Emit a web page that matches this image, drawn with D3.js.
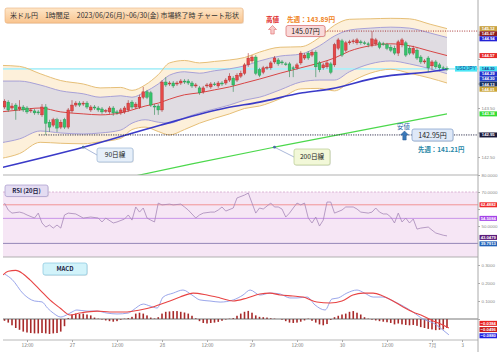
<!DOCTYPE html>
<html>
<head>
<meta charset="utf-8">
<script src="https://cdn.jsdelivr.net/npm/d3@7"></script>
<style>
body { margin: 0; background: #fff; }
svg { display: block; font-family: "Liberation Sans", "Noto Sans", sans-serif; }
.jp { font-family: "Noto Sans CJK JP", sans-serif; }
</style>
</head>
<body>
<svg id="chart" width="500" height="352"></svg>
<script>
// ---- data ----
var startHour = 6; // first candle = 06/26 06:00, one candle per hour

// [open, high, low, close]
var ohlc = [
  [143.52,143.68,143.48,143.64],[143.62,143.66,143.42,143.46],[143.50,143.60,143.46,143.54],[143.56,143.60,143.26,143.46],
  [143.48,143.66,143.44,143.52],[143.52,143.56,143.42,143.46],[143.50,143.54,143.38,143.42],[143.44,143.50,143.40,143.46],
  [143.44,143.48,143.36,143.40],[143.42,143.46,143.36,143.40],[143.36,143.58,143.32,143.52],[143.52,143.58,142.95,143.19],
  [143.21,143.26,143.01,143.11],[143.15,143.30,143.11,143.26],[143.26,143.30,143.01,143.09],[143.11,143.26,143.07,143.21],
  [143.26,143.30,143.07,143.11],[143.11,143.50,143.07,143.46],[143.44,143.66,143.40,143.56],[143.56,143.64,143.52,143.60],
  [143.60,143.64,143.52,143.56],[143.58,143.64,143.54,143.60],[143.60,143.64,143.48,143.52],[143.46,143.56,143.42,143.52],
  [143.52,143.56,143.46,143.50],[143.50,143.54,143.42,143.46],[143.48,143.52,143.38,143.42],[143.44,143.48,143.40,143.45],
  [143.42,143.54,143.38,143.50],[143.50,143.54,143.34,143.40],[143.42,143.46,143.36,143.40],[143.40,143.50,143.36,143.46],
  [143.42,143.54,143.38,143.50],[143.46,143.66,143.42,143.60],[143.62,143.66,143.48,143.52],[143.52,143.62,143.48,143.58],
  [143.52,143.77,143.48,143.72],[143.72,143.93,143.68,143.83],[143.83,143.87,143.68,143.72],[143.81,143.85,143.52,143.56],
  [143.54,143.58,143.36,143.52],[143.54,143.58,143.36,143.46],[143.46,144.07,143.42,144.03],[144.03,144.13,143.93,143.97],
  [143.99,144.05,143.95,144.01],[144.01,144.05,143.91,143.95],[143.99,144.05,143.95,144.01],[144.01,144.09,143.97,144.05],
  [144.05,144.09,143.99,144.03],[144.05,144.09,143.97,144.01],[144.01,144.05,143.91,143.95],[143.95,144.01,143.91,143.97],
  [143.91,143.95,143.77,143.81],[143.83,143.95,143.79,143.91],[143.95,144.01,143.91,143.97],[143.93,144.03,143.89,143.99],
  [143.99,144.03,143.95,143.98],[143.95,144.05,143.91,144.01],[144.01,144.05,143.95,143.99],[144.01,144.11,143.97,144.07],
  [144.07,144.21,144.03,144.15],[144.11,144.15,143.83,143.97],[144.07,144.21,144.03,144.17],[144.15,144.26,144.11,144.21],
  [144.21,144.42,144.17,144.38],[144.38,144.62,144.34,144.52],[144.46,144.58,144.42,144.54],[144.54,144.58,144.17,144.21],
  [144.28,144.32,144.13,144.17],[144.23,144.36,144.19,144.32],[144.32,144.36,144.28,144.33],[144.32,144.46,144.28,144.42],
  [144.44,144.56,144.40,144.52],[144.48,144.52,144.36,144.40],[144.44,144.48,144.38,144.42],[144.40,144.44,144.36,144.39],
  [144.40,144.44,144.13,144.26],[144.32,144.36,144.13,144.31],[144.32,144.42,144.28,144.38],[144.42,144.66,144.38,144.62],
  [144.52,144.62,144.48,144.58],[144.62,144.66,144.48,144.52],[144.58,144.68,144.54,144.64],[144.64,144.68,144.13,144.34],
  [144.42,144.46,144.23,144.28],[144.32,144.42,144.28,144.38],[144.34,144.46,144.30,144.42],[144.40,144.44,144.19,144.23],
  [144.38,144.83,144.34,144.79],[144.72,144.93,144.68,144.89],[144.87,144.91,144.54,144.58],[144.68,144.87,144.64,144.83],
  [144.83,144.89,144.79,144.85],[144.85,144.91,144.81,144.87],[144.83,144.93,144.79,144.89],[144.85,144.89,144.79,144.83],
  [144.83,144.87,144.79,144.82],[144.81,144.85,144.74,144.79],[144.79,145.07,144.74,144.91],[144.81,144.93,144.77,144.89],
  [144.83,144.87,144.70,144.74],[144.81,144.85,144.77,144.80],[144.79,144.83,144.68,144.72],[144.74,144.79,144.64,144.68],
  [144.72,144.77,144.58,144.62],[144.62,144.89,144.56,144.85],[144.79,144.93,144.74,144.89],[144.83,144.87,144.54,144.58],
  [144.72,144.77,144.58,144.62],[144.62,144.77,144.58,144.72],[144.68,144.72,144.48,144.52],[144.54,144.58,144.40,144.44],
  [144.44,144.50,144.40,144.46],[144.52,144.56,144.23,144.32],[144.36,144.48,144.28,144.44],[144.44,144.48,144.30,144.34],
  [144.38,144.42,144.28,144.32],[144.32,144.36,144.28,144.31],[144.31,144.35,144.26,144.30]
];

// bollinger bands (middle, +-1 sigma, +-1.5 sigma), sampled by hour
var bbHours = [5,10,15.5,21,27,31.5,37,40,43.5,47,50,54,58,62,66,70,74,79.5,85,90,94,98,103.5,109,114,119.5,124];
var bbMid = [143.42,143.46,143.50,143.42,143.38,143.36,143.40,143.46,143.54,143.60,143.68,143.77,143.81,143.87,143.93,144.01,144.09,144.21,144.32,144.42,144.52,144.66,144.77,144.81,144.77,144.66,144.57];
var bbUp1 = [144.05,144.05,143.97,143.85,143.79,143.72,143.75,143.72,143.83,143.99,144.17,144.24,144.21,144.26,144.30,144.36,144.46,144.56,144.60,144.77,144.97,145.09,145.13,145.15,145.13,145.03,144.94];
var bbLo1 = [142.79,142.87,143.03,142.99,142.97,142.99,143.05,143.19,143.26,143.21,143.19,143.30,143.40,143.48,143.56,143.66,143.72,143.87,144.03,144.07,144.07,144.24,144.40,144.46,144.40,144.30,144.20];
var bbUp2 = [144.37,144.35,144.20,144.06,143.99,143.91,143.92,143.86,143.97,144.18,144.42,144.47,144.42,144.45,144.48,144.53,144.64,144.74,144.75,144.94,145.19,145.31,145.32,145.33,145.32,145.21,145.12];
var bbLo2 = [142.47,142.57,142.80,142.78,142.77,142.81,142.88,143.06,143.11,143.02,142.95,143.06,143.19,143.29,143.38,143.49,143.54,143.69,143.89,143.90,143.85,144.02,144.21,144.29,144.21,144.11,144.01];

// 90 / 200 day lines
var ma90Hours = [5,27,47.5,65,74,85.5,93,106,119.5,124];
var ma90 = [142.28,142.70,143.15,143.50,143.62,143.81,143.89,144.13,144.24,144.29];
var ma200Hours = [37,56,78,124];
var ma200 = [142.05,142.36,142.70,143.38];

var lastPrice = 144.30;
var weekHigh = 145.07, weekLow = 142.95;
var prevHigh = 143.89, prevLow = 141.21;
var lowHour = 17;

// RSI (20) [hour, value]
var rsi = [[6,63.5],[7,59.4],[8,57.6],[10,58.2],[11,57.6],[12,56.5],[14,54.7],[15,57.6],[16,51.8],[17,49.4],
  [18,50.6],[19,48.8],[20,50.6],[21,48.8],[22,56.5],[23,57.6],[25,57.1],[27,54.7],[29,55.3],[31,54.7],
  [32,52.4],[33,54.7],[35,51.8],[36,52.4],[38,54.1],[39,56.5],[40,53.5],[41,61.2],[42,58.2],[43,60.6],
  [44,54.7],[45,53.5],[46,52.4],[47,63.5],[48,62.4],[50,62.9],[51,62.4],[53,62.9],[54,61.2],[55,59.4],
  [57,54.7],[58,56.5],[59,57.6],[61,58.2],[62,58.2],[63,59.4],[64,61.2],[65,58.8],[67,60.6],[68,66.5],
  [70,68.2],[71,69.4],[72,63.5],[73,57.6],[74,60.6],[75,60.0],[77,63.5],[78,61.2],[79,61.2],[80,60.0],
  [81,55.3],[82,57.6],[83,60.6],[84,63.5],[85,62.4],[86,63.5],[87,54.7],[88,51.8],[89,55.3],[90,50.0],
  [91,53.5],[92,64.1],[93,64.1],[94,57.6],[96,59.4],[97,61.2],[99,61.2],[100,60.0],[101,58.2],[103,57.6],
  [104,58.2],[105,60.6],[106,58.2],[107,57.1],[108,57.1],[109,55.3],[110,51.8],[111,57.6],[112,52.4],[113,54.7],
  [114,51.8],[115,54.1],[116,48.2],[117,48.8],[119,49.4],[120,47.6],[121,45.9],[123,44.6],[124,44.2]];
var rsiLevels = [70, 62.4882, 54.5084, 39.7913];
var rsiTagValues = [62.4882, 54.5084, 43.0479, 39.7913];
var rsiTicks = [80, 70, 60, 50];

// MACD [hour, value]
var macd = [[6,0.25],[8,0.22],[11,0.14],[14,0.10],[16,0.095],[17.5,0.06],[19,0.033],[21,0.011],[22.5,0.022],[24,0.039],
  [25.3,0.05],[28,0.044],[30.7,0.044],[33.3,0.033],[36,0.028],[39,0.033],[40.3,0.05],[43,0.083],[44.8,0.072],[46.7,0.061],
  [48.3,0.122],[51,0.144],[53.6,0.161],[56,0.133],[58.1,0.106],[60.8,0.10],[63.5,0.094],[67,0.106],[69.6,0.133],[71.5,0.161],
  [74.1,0.133],[76.8,0.144],[79.5,0.139],[82.1,0.117],[84,0.117],[86.7,0.122],[88.8,0.078],[91.5,0.05],[93.3,0.111],[95,0.117],
  [97.3,0.144],[100,0.161],[102,0.144],[104.3,0.122],[106.9,0.122],[109.6,0.10],[112.3,0.072],[114.9,0.039],[117.6,0.0],
  [120.3,-0.022],[122.9,-0.061],[124.5,-0.088]];
var signal = [[5.6,0.245],[7,0.265],[9,0.27],[11,0.25],[12.8,0.217],[15.5,0.161],[18.1,0.106],[20.8,0.061],[23.5,0.022],
  [26.1,0.033],[30.7,0.044],[34.1,0.039],[38.7,0.039],[42.1,0.05],[45.6,0.067],[49.3,0.094],[52.8,0.122],[56.3,0.144],
  [60,0.133],[63.5,0.117],[66.9,0.10],[70.7,0.117],[74.1,0.139],[76.8,0.144],[79.5,0.133],[82.9,0.128],[85.6,0.122],
  [89.3,0.094],[92.8,0.089],[96,0.10],[98.9,0.133],[101.6,0.144],[104.3,0.144],[106.9,0.128],[109.6,0.10],[112.3,0.067],
  [114.9,0.039],[117.6,0.017],[120.3,-0.011],[122.9,-0.033],[124.5,-0.05]];
var hist = [-0.01,-0.02,-0.035,-0.05,-0.06,-0.07,-0.075,-0.078,-0.08,-0.08,
  -0.078,-0.08,-0.083,-0.08,-0.078,-0.07,-0.04,0.005,0.025,0.03,
  0.028,0.03,0.025,0.02,0.008,0.002,-0.003,-0.008,-0.012,-0.015,
  -0.012,-0.004,0.002,0.005,0.012,0.03,0.035,0.03,0.02,0.008,
  0.003,0.01,0.03,0.04,0.042,0.044,0.044,0.04,0.036,0.03,
  0.018,0.004,-0.012,-0.022,-0.025,-0.022,-0.02,-0.016,-0.01,-0.003,
  0.002,0.005,0.018,0.03,0.04,0.045,0.035,0.02,0.012,0.01,
  0.008,0.004,0.002,0.0,-0.004,-0.012,-0.02,-0.022,-0.02,-0.015,
  -0.008,0.002,-0.01,-0.02,-0.03,-0.035,-0.028,-0.005,0.01,0.018,
  0.025,0.03,0.04,0.044,0.035,0.025,0.01,0.002,-0.004,-0.008,
  -0.012,-0.015,-0.018,-0.022,-0.03,-0.025,-0.03,-0.033,-0.035,-0.033,
  -0.038,-0.045,-0.05,-0.055,-0.058,-0.062,-0.06,-0.058,-0.05];
var macdTagValues = [-0.0384, -0.0496, -0.0880];
var macdTicks = [0.3, 0.2, 0.1, 0.0];

// axis labels
var xTickHours = [12,24,36,48,60,72,84,96,108,120,128];
var xTickLabels = ['12:00','27','12:00','28','12:00','29','12:00','30','12:00','7月','3'];
var priceTicks = [142.5,143.0,143.5,144.0,144.5,145.0];
var mainTagValues = [145.12,145.07,144.94,144.57,144.30,144.29,144.20,144.13,144.01,143.38,142.95];

var title = '米ドル円　1時間足　2023/06/26(月)~06/30(金) 市場終了時 チャート形状';

// ---- layout ----
var left = 3, right = 478;
var svg = d3.select('#chart');
var defs = svg.append('defs');

var x = d3.scaleLinear().domain([0, 128]).range([-18, 462]);
var yP = d3.scaleLinear().domain([142.5, 143.5]).range([157, 108]);
var yR = d3.scaleLinear().domain([31.8, 80]).range([257, 175]);
var yM = d3.scaleLinear().domain([-0.1, 0.3]).range([337, 265]);

function clip(id, y0, y1) {
  defs.append('clipPath').attr('id', id).append('rect')
    .attr('x', left).attr('y', y0).attr('width', right - left).attr('height', y1 - y0);
}
clip('cMain', 0, 175); clip('cRsi', 175, 257); clip('cMacd', 257, 340);

var gMain = svg.append('g').attr('clip-path', 'url(#cMain)');

// band fills
function band(hi, lo) {
  return d3.area().curve(d3.curveMonotoneX)
    .x(function(d, i) { return x(bbHours[i]); })
    .y0(function(d, i) { return yP(lo[i]); })
    .y1(function(d, i) { return yP(hi[i]); })(bbHours);
}
function bline(arr, hours) {
  return d3.line().curve(d3.curveMonotoneX)
    .x(function(d, i) { return x(hours[i]); })
    .y(function(d) { return yP(d); })(arr);
}
gMain.append('path').attr('d', band(bbUp2, bbLo2)).attr('fill', '#fdf0da');
gMain.append('path').attr('d', band(bbUp1, bbLo1)).attr('fill', '#e0dce2');

// current price line
gMain.append('line').attr('x1', left).attr('x2', right)
  .attr('y1', yP(lastPrice)).attr('y2', yP(lastPrice))
  .attr('stroke', '#aeeff8').attr('stroke-width', 1.8);

[bbUp2, bbLo2].forEach(function(a) {
  gMain.append('path').attr('d', bline(a, bbHours)).attr('fill', 'none').attr('stroke', '#e6bf78').attr('stroke-width', 1);
});
[bbUp1, bbLo1].forEach(function(a) {
  gMain.append('path').attr('d', bline(a, bbHours)).attr('fill', 'none').attr('stroke', '#9f98d6').attr('stroke-width', 0.9);
});
gMain.append('path').attr('d', bline(bbMid, bbHours)).attr('fill', 'none').attr('stroke', '#d84646').attr('stroke-width', 1);

// moving averages
gMain.append('path').attr('d', bline(ma90, ma90Hours)).attr('fill', 'none').attr('stroke', '#3a3ac8').attr('stroke-width', 1.6);
gMain.append('path').attr('d', bline(ma200, ma200Hours)).attr('fill', 'none').attr('stroke', '#4cd84c').attr('stroke-width', 1.2);

// high / low dotted lines
svg.append('line').attr('x1', 325).attr('x2', right)
  .attr('y1', yP(weekHigh)).attr('y2', yP(weekHigh))
  .attr('stroke', '#a02424').attr('stroke-width', 0.9).attr('stroke-dasharray', '1,1.4');
svg.append('line').attr('x1', x(lowHour) - 7).attr('x2', right)
  .attr('y1', yP(weekLow)).attr('y2', yP(weekLow))
  .attr('stroke', '#202040').attr('stroke-width', 0.9).attr('stroke-dasharray', '1.2,1.2');

// candles
var candles = gMain.selectAll('g.c').data(ohlc).enter().append('g').attr('class', 'c');
function cx(d, i) { return x(startHour + i); }
function up(d) { return d[3] >= d[0]; }
candles.append('line')
  .attr('x1', cx).attr('x2', cx)
  .attr('y1', function(d) { return yP(d[1]); })
  .attr('y2', function(d) { return yP(d[2]); })
  .attr('stroke', function(d) { return up(d) ? '#a83030' : '#2e8a50'; })
  .attr('stroke-width', 0.6);
candles.append('rect')
  .attr('x', function(d, i) { return cx(d, i) - 1.35; })
  .attr('width', 2.7)
  .attr('y', function(d) { return yP(Math.max(d[0], d[3])); })
  .attr('height', function(d) { return Math.max(0.8, Math.abs(yP(d[0]) - yP(d[3]))); })
  .attr('fill', function(d) { return up(d) ? '#e64848' : '#36c46a'; })
  .attr('stroke', function(d) { return up(d) ? '#b02a2a' : '#239050'; })
  .attr('stroke-width', 0.4);

// ---- RSI panel ----
var gR = svg.append('g').attr('clip-path', 'url(#cRsi)');
gR.append('rect').attr('x', left).attr('width', right - left)
  .attr('y', yR(70)).attr('height', yR(31.8) - yR(70)).attr('fill', '#f6e6f5');
var levelColors = ['#d4a4cc', '#f08a8a', '#c48ae6', '#8a7cb0'];
rsiLevels.forEach(function(v, i) {
  gR.append('line').attr('x1', left).attr('x2', right).attr('y1', yR(v)).attr('y2', yR(v))
    .attr('stroke', levelColors[i]).attr('stroke-width', i === 0 ? 0.8 : 0.9)
    .attr('stroke-dasharray', i === 0 ? '2,1.5' : null);
});
gR.append('path').datum(rsi)
  .attr('d', d3.line().x(function(d) { return x(d[0]); }).y(function(d) { return yR(d[1]); }))
  .attr('fill', 'none').attr('stroke', '#a688b8').attr('stroke-width', 0.8);

// ---- MACD panel ----
var gM = svg.append('g').attr('clip-path', 'url(#cMacd)');
gM.selectAll('rect.h').data(hist).enter().append('rect').attr('class', 'h')
  .attr('x', function(d, i) { return x(startHour + i) - 0.8; })
  .attr('width', 1.6)
  .attr('y', function(d) { return yM(Math.max(0, d)); })
  .attr('height', function(d) { return Math.abs(yM(d) - yM(0)); })
  .attr('fill', '#a82a2a');
gM.append('line').attr('x1', left).attr('x2', right).attr('y1', yM(0)).attr('y2', yM(0))
  .attr('stroke', '#555').attr('stroke-width', 0.8);
var mline = d3.line().curve(d3.curveMonotoneX).x(function(d) { return x(d[0]); }).y(function(d) { return yM(d[1]); });
gM.append('path').datum(macd).attr('d', mline).attr('fill', 'none').attr('stroke', '#8f9ce8').attr('stroke-width', 0.9);
gM.append('path').datum(signal).attr('d', mline).attr('fill', 'none').attr('stroke', '#e84444').attr('stroke-width', 1.1);

// ---- separators / axes ----
[175, 257].forEach(function(yy) {
  svg.append('line').attr('x1', left).attr('x2', right).attr('y1', yy).attr('y2', yy)
    .attr('stroke', '#a8a8a8').attr('stroke-width', 0.9);
});
svg.append('line').attr('x1', left).attr('x2', right).attr('y1', 340).attr('y2', 340)
  .attr('stroke', '#b0b0b0').attr('stroke-width', 0.9);
svg.append('line').attr('x1', right).attr('x2', right).attr('y1', 0).attr('y2', 352)
  .attr('stroke', '#a0a0a0').attr('stroke-width', 0.9);

var xAxis = svg.append('g').attr('transform', 'translate(0,340)')
  .call(d3.axisBottom(x).tickValues(xTickHours).tickSize(2).tickPadding(2)
    .tickFormat(function(d, i) { return xTickLabels[i]; }));
xAxis.select('.domain').remove();
xAxis.selectAll('line').attr('stroke', '#aaa');
xAxis.selectAll('text').attr('font-size', 4.8).attr('fill', '#777').attr('class', 'jp');

// ---- value tags on the right ----
function spread(ys, gap, symmetric) {
  var idx = ys.map(function(y, i) { return i; }).sort(function(a, b) { return ys[a] - ys[b]; });
  var out = ys.slice();
  if (!symmetric) {
    for (var k = 1; k < idx.length; k++) {
      if (out[idx[k]] - out[idx[k - 1]] < gap) out[idx[k]] = out[idx[k - 1]] + gap;
    }
  } else {
    for (var it = 0; it < 60; it++) {
      for (var k2 = 1; k2 < idx.length; k2++) {
        var a = idx[k2 - 1], b = idx[k2], d = out[b] - out[a];
        if (d < gap) { out[a] -= (gap - d) / 2; out[b] += (gap - d) / 2; }
      }
    }
  }
  return out;
}

// gray scale labels, hidden where a coloured tag sits on top of them
function rightAxis(scale, ticks, fmt, tagYs) {
  var shown = ticks.filter(function(t) {
    return tagYs.every(function(ty) { return Math.abs(scale(t) - ty) > 5.5; });
  });
  var g = svg.append('g').attr('transform', 'translate(' + right + ',0)')
    .call(d3.axisRight(scale).tickValues(ticks).tickSize(2).tickPadding(1.5)
      .tickFormat(function(t) { return shown.indexOf(t) >= 0 ? fmt(t) : ''; }));
  g.select('.domain').remove();
  g.selectAll('line').attr('stroke', '#aaa');
  g.selectAll('text').attr('font-size', 4.4).attr('fill', '#888');
}

function tags(values, ys, colors, textColors, fmt) {
  var g = svg.append('g');
  values.forEach(function(v, i) {
    g.append('rect').attr('x', 479.5).attr('y', ys[i] - 2.5).attr('width', 17.5).attr('height', 5)
      .attr('fill', colors[i]);
    g.append('text').attr('x', 488.25).attr('y', ys[i] + 1.45).attr('text-anchor', 'middle')
      .attr('font-size', 4.2).attr('font-weight', 'bold').attr('fill', textColors[i] || '#fff')
      .text(fmt(v));
  });
}

var mainYs = spread(mainTagValues.map(yP), 5.1, false);
var rsiYs = spread(rsiTagValues.map(yR), 6.4, true);
var macdYs = spread(macdTagValues.map(yM), 6.2, true);

rightAxis(yP, priceTicks, d3.format('.2f'), mainYs);
rightAxis(yR, rsiTicks, d3.format('.4f'), rsiYs);
rightAxis(yM, macdTicks, d3.format('.4f'), macdYs);

tags(mainTagValues, mainYs,
  ['#c9a242', '#8c1e1e', '#2222d6', '#e62a2a', '#46e4f4', '#2232cc', '#2442c6', '#1a3262', '#c8a232', '#34dc34', '#1a1a3a'],
  [null, null, null, null, '#1a3490'], d3.format('.2f'));
tags(rsiTagValues, rsiYs, ['#f02a2a', '#a444e8', '#5c1c7a', '#2262b8'], [], d3.format('.4f'));
tags(macdTagValues, macdYs, ['#e82222', '#c81a1a', '#2222e0'], [], d3.format('.4f'));

// USD/JPY tag next to the last price
var lpY = mainYs[mainTagValues.indexOf(lastPrice)];
svg.append('rect').attr('x', 455).attr('y', lpY - 2.8).attr('width', 22).attr('height', 5.6).attr('fill', '#4ae6f6');
svg.append('text').attr('x', 466).attr('y', lpY + 1.6).attr('text-anchor', 'middle')
  .attr('font-size', 4.6).attr('fill', '#1a3a8a').text('USD/JPY');

// ---- annotations ----
var grad = defs.append('linearGradient').attr('id', 'gTitle').attr('x1', 0).attr('y1', 0).attr('x2', 0).attr('y2', 1);
grad.append('stop').attr('offset', 0).attr('stop-color', '#fee6c8');
grad.append('stop').attr('offset', 1).attr('stop-color', '#f9c48e');
svg.append('rect').attr('x', 6).attr('y', 9).attr('width', 238).attr('height', 15).attr('rx', 2)
  .attr('fill', '#e8d2bc').attr('opacity', 0.6);
svg.append('rect').attr('x', 5).attr('y', 8).attr('width', 238).attr('height', 15).attr('rx', 2)
  .attr('fill', 'url(#gTitle)').attr('stroke', '#eaaf78').attr('stroke-width', 0.6);
svg.append('text').attr('class', 'jp').attr('x', 10).attr('y', 18.3)
  .attr('font-size', 7.4).attr('fill', '#333').attr('textLength', 229).attr('lengthAdjust', 'spacingAndGlyphs')
  .text(title);

function labelBox(bx, by, w, h, fill, stroke, txt, fs, bold) {
  svg.append('rect').attr('x', bx + 0.8).attr('y', by + 0.8).attr('width', w).attr('height', h).attr('rx', 2)
    .attr('fill', '#c8c8c8').attr('opacity', 0.5);
  svg.append('rect').attr('x', bx).attr('y', by).attr('width', w).attr('height', h).attr('rx', 2)
    .attr('fill', fill).attr('stroke', stroke).attr('stroke-width', 0.7);
  svg.append('text').attr('class', 'jp').attr('x', bx + w / 2).attr('y', by + h / 2 + fs * 0.36)
    .attr('text-anchor', 'middle').attr('font-size', fs)
    .attr('font-weight', bold ? 'bold' : null).attr('fill', bold ? '#1c2244' : '#222').text(txt);
}

// high
svg.append('text').attr('class', 'jp').attr('x', 266).attr('y', 22).attr('font-size', 6.6)
  .attr('font-weight', 'bold').attr('fill', '#e02a2a').text('高値');
svg.append('path').attr('d', 'M272.5,25.5 L268.5,29.5 L270.8,29.5 L270.8,34 L274.2,34 L274.2,29.5 L276.5,29.5 Z')
  .attr('fill', '#f7c9c9').attr('stroke', '#e06a6a').attr('stroke-width', 0.6);
svg.append('text').attr('class', 'jp').attr('x', 287).attr('y', 21.5).attr('font-size', 6.6)
  .attr('font-weight', 'bold').attr('fill', '#f08424').text('先週：' + prevHigh.toFixed(2) + '円');
labelBox(286, 25.5, 39, 11, '#f9d9d9', '#d86868', weekHigh.toFixed(2) + '円', 7);

// low
svg.append('text').attr('class', 'jp').attr('x', 397).attr('y', 128.5).attr('font-size', 6.4)
  .attr('fill', '#2a66a8').text('安値');
svg.append('path').attr('d', 'M404.5,131 L400.5,135 L402.8,135 L402.8,140 L406.2,140 L406.2,135 L408.5,135 Z')
  .attr('fill', '#3a78b8').attr('stroke', '#2a5a90').attr('stroke-width', 0.5);
labelBox(412, 129, 41, 12, '#dfe9f8', '#7c9cc8', weekLow.toFixed(2) + '円', 7);
svg.append('text').attr('class', 'jp').attr('x', 418).attr('y', 151.5).attr('font-size', 6.4)
  .attr('font-weight', 'bold').attr('fill', '#2a88a8').text('先週：' + prevLow.toFixed(2) + '円');

// MA callouts
function callout(hours, arr, h, bx, by, w, hh, fill, stroke, txt) {
  var px = x(h), py = yP(arr[hours.indexOf(h)]);
  svg.append('line').attr('x1', px).attr('y1', py).attr('x2', bx).attr('y2', by + hh / 2)
    .attr('stroke', '#7088c0').attr('stroke-width', 0.6);
  svg.append('circle').attr('cx', px).attr('cy', py).attr('r', 1.4).attr('fill', '#4a6aa8');
  labelBox(bx, by, w, hh, fill, stroke, txt, 6.6);
}
callout(ma90Hours, ma90, 27, 97, 148, 36, 14, '#e6eff9', '#9ab4d4', '90日線');
callout(ma200Hours, ma200, 78, 294, 149, 36, 16, '#f2f8d8', '#b8cc90', '200日線');

// panel titles
labelBox(5, 185, 43, 11.5, '#e4dcf2', '#a898cc', 'RSI (20日)', 6, true);
labelBox(43, 263, 44, 12, '#d2f3fa', '#86c6de', 'MACD', 6, true);
</script>
</body>
</html>
